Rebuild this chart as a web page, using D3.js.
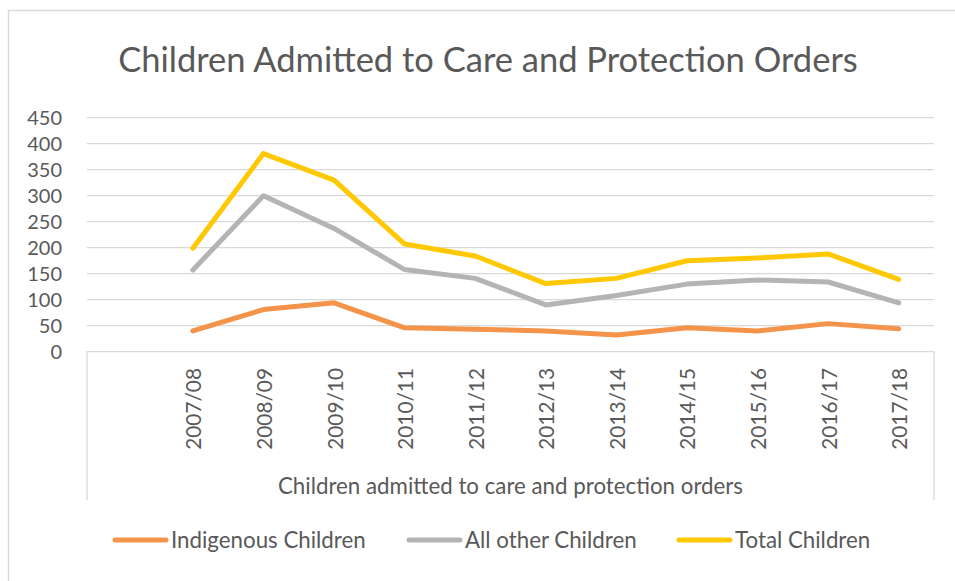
<!DOCTYPE html>
<html>
<head>
<meta charset="utf-8">
<script src="https://cdn.jsdelivr.net/npm/d3@7"></script>
<style>
  body { margin: 0; background: #fff; }
  text { font-family: Lato, "Open Sans", sans-serif; fill: #595959; }
</style>
</head>
<body>
<svg id="chart"></svg>
<script>
let w = 955
let h = 581

// first slot is blank in the source sheet
let years = ["", "2007/08", "2008/09", "2009/10", "2010/11", "2011/12", "2012/13",
  "2013/14", "2014/15", "2015/16", "2016/17", "2017/18"]
let indigenous = [null, 40, 81, 94, 46, 43, 40, 32, 46, 40, 54, 44]
let allOther = [null, 157, 300, 237, 158, 141, 90, 108, 130, 138, 134, 94]
let total = [null, 199, 381, 330, 207, 184, 131, 141, 175, 180, 188, 139]
let yTicks = [0, 50, 100, 150, 200, 250, 300, 350, 400, 450]
let seriesNames = ["Indigenous Children", "All other Children", "Total Children"]
let colors = ["#f4944a", "#b4b4b4", "#ffc800"]

let svg = d3.select("#chart").attr("width", w).attr("height", h)

// outer chart border
svg.append("rect")
  .attr("x", 8.5).attr("y", 10.5)
  .attr("width", 960).attr("height", 600)
  .attr("fill", "none").attr("stroke", "#d9d9d9").attr("stroke-width", 1.5)

let pLeft = 87, pRight = 934, pTop = 117.7, pBottom = 351.7

let x = d3.scaleBand().domain(years).range([pLeft, pRight])
let y = d3.scaleLinear().domain([0, 450]).range([pBottom, pTop])

svg.append("text")
  .attr("x", 488).attr("y", 72)
  .attr("text-anchor", "middle")
  .style("font-size", "34.5px")
  .text("Children Admitted to Care and Protection Orders")

// gridlines
svg.selectAll(".grid")
  .data(yTicks.filter(d => d > 0))
  .join("line")
  .attr("x1", pLeft).attr("x2", pRight)
  .attr("y1", d => y(d)).attr("y2", d => y(d))
  .attr("stroke", "#d9d9d9").attr("stroke-width", 1.3)

svg.selectAll(".ylab")
  .data(yTicks)
  .join("text")
  .attr("x", 62)
  .attr("y", d => y(d))
  .attr("dy", "0.36em")
  .attr("text-anchor", "end")
  .style("font-size", "20px")
  .text(d => d)

// category axis box
svg.append("path")
  .attr("d", `M${pLeft},500V${pBottom}H${pRight}V500`)
  .attr("fill", "none").attr("stroke", "#d9d9d9").attr("stroke-width", 1.3)

svg.selectAll(".xlab")
  .data(years.filter(d => d !== ""))
  .join("text")
  .attr("transform", d => `translate(${x(d) + x.bandwidth() / 2 + 1},368) rotate(-90)`)
  .attr("text-anchor", "end")
  .attr("dy", "0.36em")
  .style("font-size", "20.8px")
  .text(d => d)

svg.append("text")
  .attr("x", (pLeft + pRight) / 2).attr("y", 494)
  .attr("text-anchor", "middle")
  .style("font-size", "22.3px")
  .text("Children admitted to care and protection orders")

let line = d3.line()
  .defined(d => d[1] != null)
  .x(d => x(d[0]) + x.bandwidth() / 2)
  .y(d => y(d[1]))

let allSeries = [indigenous, allOther, total]
allSeries.forEach((vals, i) => {
  svg.append("path")
    .datum(years.map((yr, j) => [yr, vals[j]]))
    .attr("d", line)
    .attr("fill", "none")
    .attr("stroke", colors[i])
    .attr("stroke-width", 5)
    .attr("stroke-linejoin", "round")
    .attr("stroke-linecap", "round")
})

// legend
let legX = [113, 407, 677]
seriesNames.forEach((name, i) => {
  svg.append("line")
    .attr("x1", legX[i] + 2).attr("x2", legX[i] + 53)
    .attr("y1", 540).attr("y2", 540)
    .attr("stroke", colors[i]).attr("stroke-width", 5)
    .attr("stroke-linecap", "round")
  svg.append("text")
    .attr("x", legX[i] + 58).attr("y", 540)
    .attr("dy", "0.36em")
    .style("font-size", "22.3px")
    .text(name)
})
</script>
</body>
</html>
